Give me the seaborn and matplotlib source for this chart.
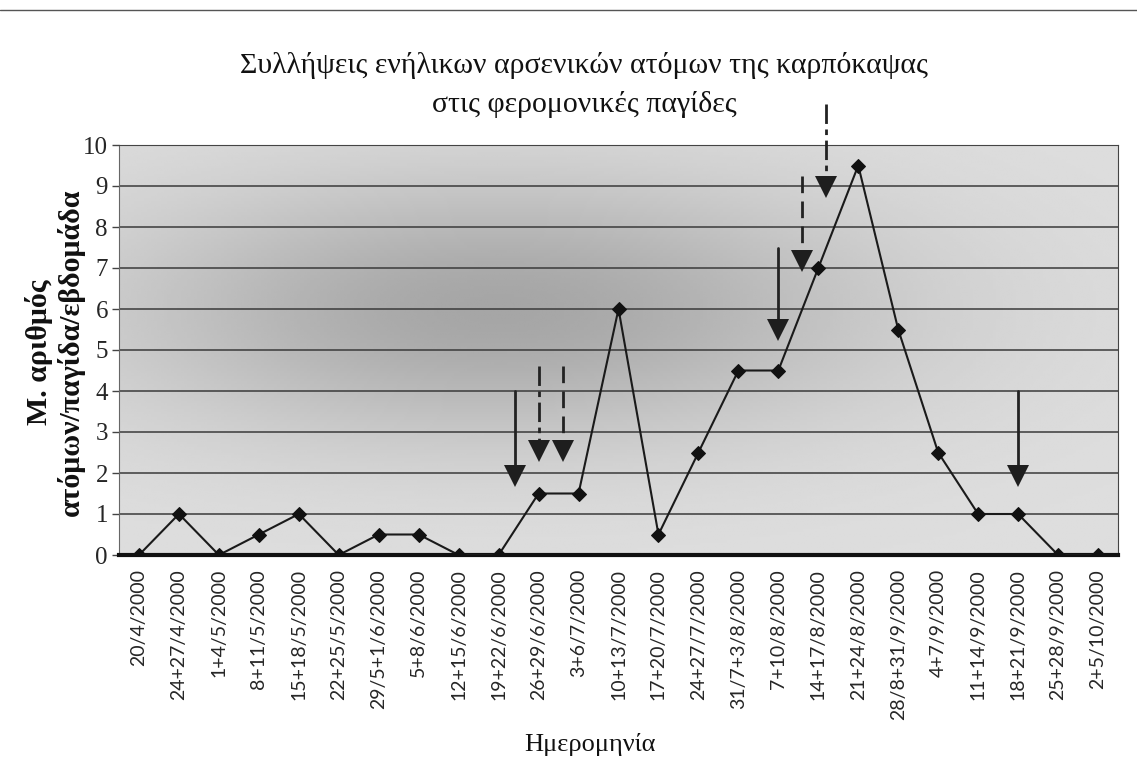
import numpy as np
import pandas as pd
import matplotlib
matplotlib.use("Agg")
import matplotlib.pyplot as plt
import seaborn as sns

# ---- data ----
dates = ["20/4/2000", "24+27/4/2000", "1+4/5/2000", "8+11/5/2000", "15+18/5/2000",
         "22+25/5/2000", "29/5+1/6/2000", "5+8/6/2000", "12+15/6/2000", "19+22/6/2000",
         "26+29/6/2000", "3+6/7/2000", "10+13/7/2000", "17+20/7/2000", "24+27/7/2000",
         "31/7+3/8/2000", "7+10/8/2000", "14+17/8/2000", "21+24/8/2000", "28/8+31/9/2000",
         "4+7/9/2000", "11+14/9/2000", "18+21/9/2000", "25+28/9/2000", "2+5/10/2000"]
captures = [0, 1, 0, 0.5, 1, 0, 0.5, 0.5, 0, 0, 1.5, 1.5, 6, 0.5, 2.5,
            4.5, 4.5, 7, 9.5, 5.5, 2.5, 1, 1, 0, 0]

# arrows (treatment markers): x position in category units, start value, tip value, line style
arrow_x = [9.4, 10.0, 10.6, 16.0, 16.6, 17.2, 22.0]
arrow_top = [4.0, 4.6, 4.6, 7.5, 9.25, 11.0, 4.0]
arrow_tip = [1.65, 2.25, 2.25, 5.2, 6.9, 8.7, 1.65]
arrow_style = ["-", "-.", "--", "-", "--", "-.", "-"]

title = "Συλλήψεις ενήλικων αρσενικών ατόμων της καρπόκαψας\nστις φερομονικές παγίδες"
ylabel = "Μ. αριθμός\nατόμων/παγίδα/εβδομάδα"
xlabel = "Ημερομηνία"

df = pd.DataFrame({"idx": np.arange(len(dates)), "date": dates, "val": captures})

sns.set_theme(style="white")
plt.rcParams["font.family"] = ["Liberation Serif", "DejaVu Serif"]

fig = plt.figure(figsize=(11.37, 7.75), dpi=100)
ax = fig.add_axes([119 / 1137, 1 - 555 / 775, (1118 - 119) / 1137, (555 - 145) / 775])

# background gradient for the plot area
nx, ny = 300, 150
gx, gy = np.meshgrid(np.linspace(0, 1, nx), np.linspace(0, 1, ny))
shade = 0.87 - 0.22 * np.exp(-(((gx - 0.38) / 0.38) ** 2 + ((gy - 0.6) / 0.32) ** 2))
ax.imshow(shade, cmap="gray", vmin=0, vmax=1, origin="lower", aspect="auto",
          extent=[-0.5, len(dates) - 0.5, 0, 10], zorder=0, interpolation="bilinear")

# gridlines
for v in range(1, 11):
    ax.axhline(v, color="#3a3a3a", lw=1.1, zorder=1)

sns.lineplot(data=df, x="idx", y="val", ax=ax, color="#1a1a1a", lw=1.5,
             marker="D", markersize=7, markeredgecolor="#111111",
             markerfacecolor="#111111", zorder=4, legend=False)

# arrows
for x, t, b, ls in zip(arrow_x, arrow_top, arrow_tip, arrow_style):
    ax.plot([x, x], [t, b + 0.3], color="#222222", lw=2, ls=ls, zorder=5, clip_on=False,
            dashes=(6, 3) if ls == "--" else ((7, 2, 2, 2) if ls == "-." else (None, None)))
    ax.plot([x], [b + 0.28], marker="v", markersize=16, color="#1e1e1e", zorder=6,
            clip_on=False, markeredgewidth=0)

ax.set_xlim(-0.5, len(dates) - 0.5)
ax.set_ylim(0, 10)
ax.set_xticks(np.arange(len(dates)))
ax.set_xticklabels(dates, rotation=90, family=["Lato", "DejaVu Sans"], fontsize=14)
ax.set_xticks(np.arange(len(dates) + 1) - 0.5, minor=True)
ax.tick_params(axis="x", which="major", length=0, pad=10)
ax.tick_params(axis="x", which="minor", length=6, width=2, color="#111111", direction="out")
ax.set_yticks(range(0, 11))
ax.set_yticklabels([str(v) for v in range(0, 11)], fontsize=18)
ax.tick_params(axis="y", which="major", length=5, width=1, color="#444444",
               direction="out", left=True, pad=3)

for s in ["top", "right"]:
    ax.spines[s].set_visible(True)
    ax.spines[s].set_color("#444444")
    ax.spines[s].set_linewidth(0.8)
ax.spines["left"].set_color("#666666")
ax.spines["left"].set_linewidth(0.8)
ax.spines["bottom"].set_color("#111111")
ax.spines["bottom"].set_linewidth(3)

ax.set_xlabel("")
ax.set_ylabel("")

fig.text(584 / 1137, 1 - 85 / 775, title, ha="center", va="center", fontsize=21.5,
         linespacing=1.6, color="#111111")
fig.text(55 / 1137, 1 - 352 / 775, ylabel, ha="center", va="center", rotation=90,
         fontsize=21.5, fontweight="bold", linespacing=1.15, color="#111111")
fig.text(590 / 1137, 1 - 745 / 775, xlabel, ha="center", va="center", fontsize=19,
         color="#111111")

# outer border line at the top
fig.add_artist(plt.Line2D([0, 1], [1 - 10 / 775, 1 - 10 / 775], color="#555555", lw=1,
                          transform=fig.transFigure))

fig.savefig("out.png", dpi=100, facecolor="white")
